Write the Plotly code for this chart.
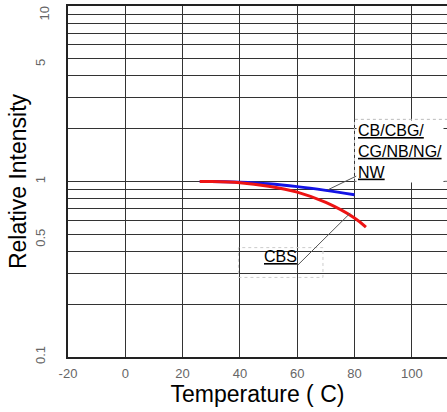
import plotly.graph_objects as go

# ---- data ----
temp_cb = [26, 30, 40, 50, 60, 70, 80]
rel_cb = [1.0, 1.0, 0.99, 0.97, 0.935, 0.89, 0.84]

temp_cbs = [26, 30, 40, 50, 60, 70, 80, 84]
rel_cbs = [1.0, 1.0, 0.985, 0.94, 0.87, 0.76, 0.62, 0.55]

x_ticks = [-20, 0, 20, 40, 60, 80, 100]
y_grid = [0.1, 0.2, 0.3, 0.4, 0.5, 0.6, 0.7, 0.8, 0.9,
          1, 2, 3, 4, 5, 6, 7, 8, 9, 10]
y_labels = {0.1: "0.1", 0.5: "0.5", 1: "1", 5: "5"}
y_top_label = "10"

label_cb = "CB/CBG/<br>CG/NB/NG/<br>NW"
label_cbs = "CBS"

# trailing non-breaking spaces nudge the rotated labels slightly down, as in the reference
pad_nbsp = {5: 3, 0.5: 3}
y_ticktext = [y_labels[v] + "&nbsp;" * pad_nbsp.get(v, 0) if v in y_labels else ""
              for v in y_grid]

fig = go.Figure()
fig.add_trace(go.Scatter(x=temp_cb, y=rel_cb, mode="lines", line_shape="spline",
                         line=dict(color="#1414e6", width=3), showlegend=False))
fig.add_trace(go.Scatter(x=temp_cbs, y=rel_cbs, mode="lines", line_shape="spline",
                         line=dict(color="#ee1414", width=3), showlegend=False))

font_fam = "Arial, Liberation Sans, sans-serif"

# dotted label boxes
fig.add_shape(type="rect", x0=80.0, x1=118, y0=1.006, y1=2.26,
              line=dict(color="#bbbbbb", width=1, dash="dot"), layer="above")
fig.add_shape(type="rect", x0=39.5, x1=69, y0=0.284, y1=0.42,
              line=dict(color="#cccccc", width=1, dash="dot"), layer="above")

# leader lines
fig.add_shape(type="line", x0=80.7, y0=1.075, x1=70.6, y1=0.895,
              line=dict(color="#555555", width=1))
fig.add_shape(type="line", x0=60.3, y0=0.335, x1=78.5, y1=0.66,
              line=dict(color="#555555", width=1))

fig.add_annotation(x=80.4, y=0.173, yref="y", xref="x",
                   text="<u>" + label_cb.replace("<br>", "</u><br><u>") + "</u>",
                   showarrow=False, xanchor="left", yanchor="middle", align="left",
                   font=dict(family=font_fam, size=16, color="black"),
                   bgcolor="white", borderpad=1)
fig.add_annotation(x=47.6, y=-0.428, xref="x", yref="y",
                   text="<u>" + label_cbs + "</u>",
                   showarrow=False, xanchor="left", yanchor="middle",
                   font=dict(family=font_fam, size=16, color="black"))

# top y label (kept inside the page)
fig.add_annotation(x=0, y=1, xref="paper", yref="paper", text=y_top_label,
                   showarrow=False, textangle=-90, xanchor="right", yanchor="top",
                   xshift=-16, yshift=0, borderpad=0,
                   font=dict(family=font_fam, size=13, color="#666666"))

fig.update_layout(
    width=447, height=412,
    margin=dict(l=68, r=0, t=6, b=55),
    paper_bgcolor="white", plot_bgcolor="white",
    font=dict(family=font_fam, color="black"),
    xaxis=dict(
        range=[-20, 112.3], tickvals=x_ticks, ticktext=[str(v) for v in x_ticks],
        showgrid=True, gridcolor="#333333", gridwidth=1.3,
        showline=True, linecolor="#222222", linewidth=1.5, mirror=True,
        zeroline=False, ticks="", ticklabelstandoff=4,
        tickfont=dict(family=font_fam, size=13, color="#666666"),
        title=dict(text="Temperature ( C)", font=dict(family=font_fam, size=23, color="black"),
                   standoff=0),
        automargin=False,
    ),
    yaxis=dict(
        type="log", range=[-1, 1],
        tickvals=y_grid, ticktext=y_ticktext,
        tickangle=-90, ticklabeloverflow="allow",
        showgrid=True, gridcolor="#333333", gridwidth=1.3,
        showline=True, linecolor="#222222", linewidth=1.5, mirror=False,
        zeroline=False, ticks="", ticklabelstandoff=16,
        tickfont=dict(family=font_fam, size=13, color="#666666"),
        title=dict(text="Relative Intensity", font=dict(family=font_fam, size=23, color="black"),
                   standoff=0),
        automargin=False,
    ),
)

fig.write_html("out.html", config={"displayModeBar": False},
               post_script="document.body.style.margin='0px';document.body.style.padding='0px';")
